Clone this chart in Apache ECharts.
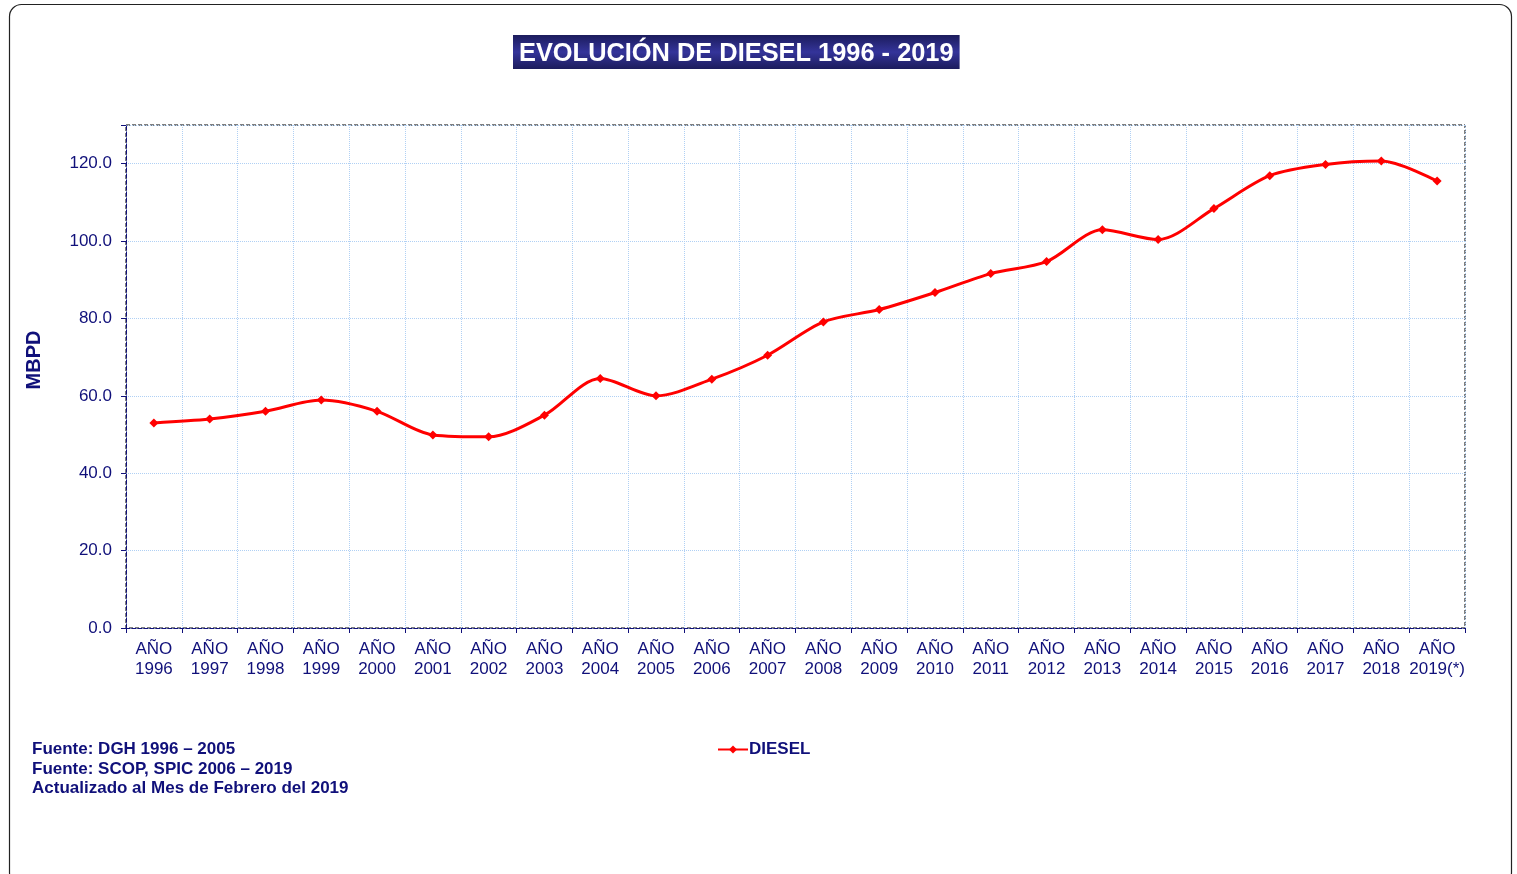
<!DOCTYPE html>
<html>
<head>
<meta charset="utf-8">
<script src="https://cdn.jsdelivr.net/npm/echarts@6/dist/echarts.min.js"></script>
<style>
html,body{margin:0;padding:0;background:#fff;}
#chart{width:1517px;height:874px;}
</style>
</head>
<body>
<div id="chart"></div>
<script>
const years = ['1996','1997','1998','1999','2000','2001','2002','2003','2004','2005','2006','2007','2008','2009','2010','2011','2012','2013','2014','2015','2016','2017','2018','2019(*)'];
const categories = years.map(y => 'AÑO\n' + y);
const diesel = [53.0, 54.0, 56.0, 58.9, 56.0, 49.9, 49.4, 55.0, 64.5, 60.0, 64.3, 70.5, 79.1, 82.3, 86.7, 91.6, 94.7, 102.9, 100.4, 108.4, 116.9, 119.8, 120.7, 115.5];
const yTicks = [0, 20, 40, 60, 80, 100, 120];
const footnotes = ['Fuente: DGH 1996 – 2005', 'Fuente: SCOP, SPIC 2006 – 2019', 'Actualizado al Mes de Febrero del 2019'];

const navy = '#10107a';
const chart = echarts.init(document.getElementById('chart'));
chart.setOption({
  backgroundColor: '#fff',
  animation: false,
  textStyle: { fontFamily: 'Liberation Sans, Arial, sans-serif' },
  title: {
    text: 'EVOLUCIÓN DE DIESEL 1996 - 2019',
    left: 513, top: 35,
    padding: [5, 6, 1, 6],
    backgroundColor: new echarts.graphic.LinearGradient(0, 0, 0, 1, [
      { offset: 0, color: '#1c1c5c' },
      { offset: 0.5, color: '#34349a' },
      { offset: 1, color: '#1c1c5c' }
    ]),
    textStyle: { color: '#fff', fontSize: 25.4, fontWeight: 'bold', fontFamily: 'Liberation Sans, Arial, sans-serif', lineHeight: 28 }
  },
  legend: {
    left: 712, top: 736,
    itemWidth: 30, itemHeight: 10, itemGap: 10,
    textStyle: { color: navy, fontSize: 17, fontWeight: 'bold', padding: [0,0,0,-4] },
    data: ['DIESEL']
  },
  grid: {
    left: 126, right: 52, top: 125, bottom: 246,
    show: true, borderColor: '#000', borderWidth: 1, borderType: 'dashed'
  },
  xAxis: {
    type: 'category',
    data: categories,
    boundaryGap: true,
    axisLine: { lineStyle: { color: navy, type: 'dashed', width: 1 } },
    axisTick: { show: true, length: 5, lineStyle: { color: navy } },
    axisLabel: { color: navy, fontSize: 17, margin: 11, lineHeight: 20, interval: 0 },
    splitLine: { show: true, lineStyle: { color: '#b0d0f4', width: 1, type: 'dotted' } }
  },
  yAxis: {
    type: 'value',
    min: 0, max: 130, interval: 20,
    axisLine: { show: true, lineStyle: { color: navy, type: 'dashed', width: 1 } },
    axisTick: { show: true, length: 5, lineStyle: { color: navy } },
    axisLabel: {
      color: navy, fontSize: 17, margin: 14,
      formatter: v => yTicks.includes(v) ? v.toFixed(1) : ''
    },
    splitLine: { show: true, lineStyle: { color: '#b0d0f4', width: 1, type: 'dotted' } }
  },
  series: [{
    name: 'DIESEL',
    type: 'line',
    data: diesel,
    smooth: 0.3,
    symbol: 'diamond',
    symbolSize: 9,
    lineStyle: { color: '#ff0000', width: 3 },
    itemStyle: { color: '#ff0000' }
  }],
  graphic: [
    {
      type: 'rect', silent: true, z: -1,
      shape: { x: 9.5, y: 4.5, width: 1502, height: 880, r: 12 },
      style: { fill: 'none', stroke: '#222', lineWidth: 1.2 }
    },
    {
      type: 'text', x: 34, y: 360, rotation: Math.PI / 2,
      style: {
        text: 'MBPD', fill: navy, font: 'bold 20px Liberation Sans, Arial, sans-serif',
        align: 'center', verticalAlign: 'middle'
      }
    },
    {
      type: 'text', left: 32, top: 740,
      style: {
        text: footnotes.join('\n'),
        fill: navy, font: 'bold 17px Liberation Sans, Arial, sans-serif', lineHeight: 19.5
      }
    }
  ]
});
</script>
</body>
</html>
